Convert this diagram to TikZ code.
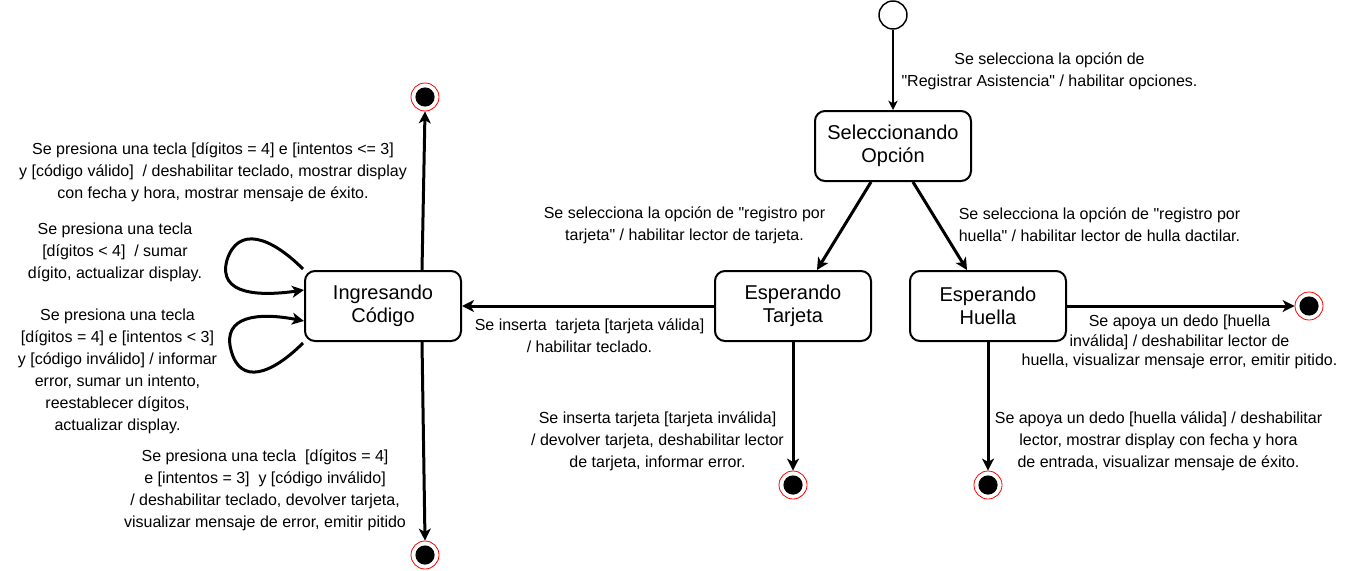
\documentclass[tikz,border=0pt]{standalone}
\usepackage{fontspec}
\setmainfont{Liberation Sans}
\usetikzlibrary{arrows.meta,calc}
\newcommand{\qq}{\textquotedbl}
\begin{document}
\begin{tikzpicture}[x=0.75pt,y=-0.75pt,
  state/.style={draw,line width=1.5pt,rounded corners=7.5pt,minimum width=117pt,minimum height=52.5pt,align=center,inner sep=0pt,font=\fontsize{15}{17.25}\selectfont},
  finalst/.style={circle,draw=red,line width=0.6pt,minimum size=21pt,inner sep=0pt,
    path picture={\fill[black] (path picture bounding box.center) circle (7.2pt);}},
  initst/.style={circle,draw,line width=1.1pt,fill=white,minimum size=21pt,inner sep=0pt},
  lbl/.style={align=center,inner sep=0pt,font=\fontsize{12}{16.5}\selectfont},
  tr/.style={line width=2.25pt,-{Stealth[length=9pt,width=9pt,inset=2.5pt]}},
  thintr/.style={line width=1.1pt,-{Stealth[length=7pt,width=7pt,inset=2pt]}}
]
\useasboundingbox (0,0) rectangle (1349,571);

% states
\node[initst] (init) at (893,15) {};
\node[state] (sel) at (893,146) {Seleccionando\\Opción};
\node[state] (tar) at (793,306) {Esperando\\Tarjeta};
\node[state] (hue) at (988,306) {Esperando\\Huella};
\node[state] (ing) at (383,306) {Ingresando\\Código};

\node[finalst] (f1) at (425,97) {};
\node[finalst] (f2) at (793,485) {};
\node[finalst] (f3) at (988,485) {};
\node[finalst] (f4) at (1309,306) {};
\node[finalst] (f5) at (425,555) {};

% transitions
\draw[thintr] (init.south) -- (sel.north);
\draw[tr] ($(sel.south)+(-22,0)$) -- ($(tar.north)+(24,0)$);
\draw[tr] ($(sel.south)+(20,0)$) -- ($(hue.north)+(-21,0)$);
\draw[tr] (tar.west) -- (ing.east);
\draw[tr] (tar.south) -- (f2.north);
\draw[tr] (hue.south) -- (f3.north);
\draw[tr] (hue.east) -- (f4.west);
\draw[tr] ($(ing.north)+(39,0)$) -- (f1.south);
\draw[tr] ($(ing.south)+(39,0)$) -- (f5.north);

% self loops
\coordinate (l1s) at ($(ing.north west)+(-1,-1)$);
\coordinate (l1e) at ($(ing.west)+(0,-16)$);
\draw[tr] (l1s) .. controls (270,236) and (238,226) .. (227,260)
               .. controls (217,296) and (262,296) .. (l1e);
\coordinate (l2s) at ($(ing.south west)+(-1,1)$);
\coordinate (l2e) at ($(ing.west)+(0,15)$);
\draw[tr] (l2s) .. controls (272,374) and (240,386) .. (231,350)
               .. controls (222,316) and (258,312) .. (l2e);

% labels
\node[lbl] (la) at (1049.5,71) {Se selecciona la opción de\\\qq Registrar Asistencia\qq{} / habilitar opciones.};
\node[lbl] (lb) at (684.5,225) {Se selecciona la opción de \qq registro por\\tarjeta\qq{} / habilitar lector de tarjeta.};
\node[lbl] (lc) at (1099.5,225) {Se selecciona la opción de \qq registro por\\huella\qq{} / habilitar lector de hulla dactilar.};
\node[lbl] (ld) at (589.5,336) {Se inserta\ \ tarjeta [tarjeta válida]\\/ habilitar teclado.};
\node[lbl] (le) at (657.5,441) {Se inserta tarjeta [tarjeta inválida]\\/ devolver tarjeta, deshabilitar lector\\de tarjeta, informar error.};
\node[lbl,font=\fontsize{12}{14.6}\selectfont] (lf) at (1179.5,342) {Se apoya un dedo [huella\\inválida] / deshabilitar lector de\\huella, visualizar mensaje error, emitir pitido.};
\node[lbl] (lg) at (1158.5,441) {Se apoya un dedo [huella válida] / deshabilitar\\lector, mostrar display con fecha y hora\\de entrada, visualizar mensaje de éxito.};
\node[lbl] (lh) at (213,172) {Se presiona una tecla [dígitos = 4] e [intentos <= 3]\\y [código válido]\ \ / deshabilitar teclado, mostrar display\\con fecha y hora, mostrar mensaje de éxito.};
\node[lbl] (li) at (115,252) {Se presiona una tecla\\\relax[dígitos < 4]\ \ / sumar\\dígito, actualizar display.};
\node[lbl] (lj) at (117.5,371) {Se presiona una tecla\\\relax[dígitos = 4] e [intentos < 3]\\y [código inválido] / informar\\error, sumar un intento,\\reestablecer dígitos,\\actualizar display.};
\node[lbl] (lk) at (265,490.5) {Se presiona una tecla\ \ [dígitos = 4]\\e [intentos = 3]\ \ y [código inválido]\\/ deshabilitar teclado, devolver tarjeta,\\visualizar mensaje de error, emitir pitido};
\end{tikzpicture}
\end{document}
